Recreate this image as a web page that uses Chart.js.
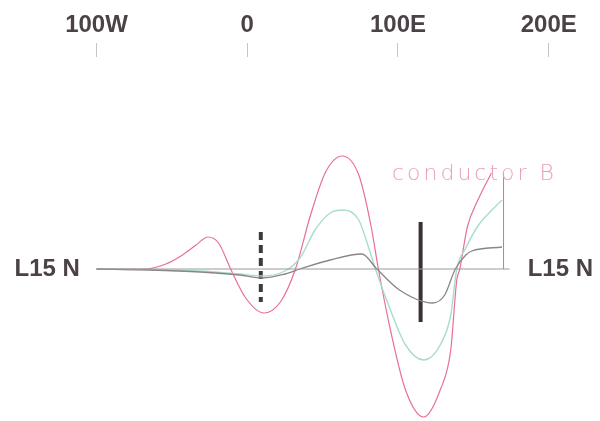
<!DOCTYPE html>
<html>
<head>
<meta charset="utf-8">
<script src="https://cdn.jsdelivr.net/npm/chart.js@4/dist/chart.umd.min.js"></script>
<style>
  html, body { margin: 0; padding: 0; background: #fff; }
  #wrap { width: 600px; height: 421px; }
</style>
</head>
<body>
<div id="wrap"><canvas id="chart" width="600" height="421"></canvas></div>
<script>
// longitude (deg, W negative) and profile amplitude
const TICKS = [-100, 0, 100, 200];
const TICK_LABELS = ['100W', '0', '100E', '200E'];

const pinkX = [-100, -68, -54, -44, -34, -26, -19, -11, -1, 11, 22, 32, 42, 52, 63, 74, 82, 87, 95, 105, 117, 128, 135, 139, 141, 146, 153, 162];
const pinkY = [0, 0, 5, 13, 24, 32, 26, 0, -29, -44, -33, 0, 54, 97, 113, 94, 44, 0, -61, -121, -148, -121, -81, -11, 0, 42, 69, 96];

const greenX = [-100, -64, -31, -5, 10, 25, 35, 45, 55, 64, 74, 80, 85, 95, 105, 117, 128, 135, 139, 145, 153, 161, 169];
const greenY = [0, -1, -2, -5, -7, -2, 11, 39, 56, 59, 49, 24, 0, -41, -76, -91, -76, -46, 0, 21, 43, 57, 69];

const grayX = [-100, -64, -31, -5, 10, 25, 35, 55, 76, 86, 101, 123, 131, 138, 145, 149, 169];
const grayY = [0, -1, -3, -6, -9, -5, 0, 9, 15, 0, -21, -34, -26, 0, 14, 18, 22];

const baseX = [-100, 174];
const dashedMarkX = 9,  dashedMarkY = [37, -33];
const solidMarkX = 115, solidMarkY = [47, -53];
const pinkMarkX = 170,  pinkMarkY = [96, 0];

const PINK = '#e8708f';
const GREEN = '#a9dccb';
const GRAY = '#8c8488';

function pts(xs, ys) {
  return xs.map((x, i) => ({ x: x, y: ys[i] }));
}
function vert(x, ys) {
  return ys.map(y => ({ x: x, y: y }));
}

// the "L15 N" and "conductor B" labels
const textPlugin = {
  id: 'labels',
  afterDatasetsDraw(chart) {
    const ctx = chart.ctx;
    const xs = chart.scales.x, ys = chart.scales.y;
    const y0 = ys.getPixelForValue(0);
    ctx.save();
    ctx.fillStyle = '#4b4247';
    ctx.font = 'bold 24px "Liberation Sans", Arial, sans-serif';
    ctx.textBaseline = 'middle';
    ctx.textAlign = 'right';
    ctx.fillText('L15 N', xs.getPixelForValue(-111), y0);
    ctx.textAlign = 'left';
    ctx.fillText('L15 N', xs.getPixelForValue(186), y0);

    ctx.fillStyle = '#e9a2b5';
    ctx.font = '200 22px "DejaVu Sans", sans-serif';
    ctx.letterSpacing = '3px';
    ctx.textBaseline = 'alphabetic';
    ctx.fillText('conductor B', xs.getPixelForValue(96), ys.getPixelForValue(89));
    ctx.restore();
  }
};

new Chart(document.getElementById('chart'), {
  type: 'line',
  data: {
    datasets: [
      { data: pts(baseX, [0, 0]), borderColor: '#9a9a9a', borderWidth: 1, tension: 0 },
      { data: pts(grayX, grayY), borderColor: GRAY, borderWidth: 1.3, cubicInterpolationMode: 'monotone' },
      { data: pts(greenX, greenY), borderColor: GREEN, borderWidth: 1.4, cubicInterpolationMode: 'monotone' },
      { data: pts(pinkX, pinkY), borderColor: PINK, borderWidth: 1.2, cubicInterpolationMode: 'monotone' },
      { data: vert(pinkMarkX, pinkMarkY), borderColor: PINK, borderWidth: 1 },
      { data: vert(dashedMarkX, dashedMarkY), borderColor: '#3e3a3c', borderWidth: 4, borderDash: [8, 5] },
      { data: vert(solidMarkX, solidMarkY), borderColor: '#3a2f34', borderWidth: 4 }
    ]
  },
  options: {
    responsive: false,
    animation: false,
    layout: { padding: 0 },
    elements: { point: { radius: 0 } },
    plugins: { legend: { display: false }, tooltip: { enabled: false } },
    scales: {
      x: {
        type: 'linear',
        position: 'top',
        min: -164,
        max: 234,
        afterFit: s => { s.height = 57; },
        afterBuildTicks: s => { s.ticks = TICKS.map(v => ({ value: v })); },
        ticks: {
          padding: 3,
          color: '#4b4247',
          font: { family: '"Liberation Sans", Arial, sans-serif', size: 24, weight: 'bold' },
          maxRotation: 0,
          callback: v => TICK_LABELS[TICKS.indexOf(v)]
        },
        grid: { drawOnChartArea: false, drawTicks: true, tickLength: 14, color: '#c8c4c6' },
        border: { display: false }
      },
      y: {
        display: false,
        min: -152,
        max: 212
      }
    }
  },
  plugins: [textPlugin]
});
</script>
</body>
</html>
